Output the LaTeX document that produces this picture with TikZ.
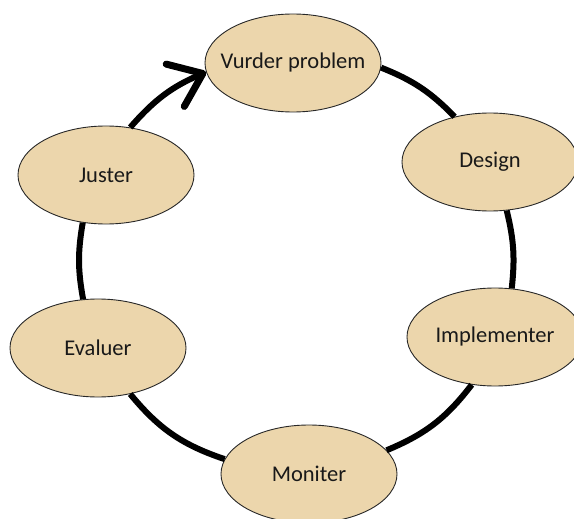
\documentclass[tikz,border=0pt]{standalone}
\usepackage{fontspec}
\setmainfont{Carlito}
\usetikzlibrary{arrows.meta,shapes.geometric}
\definecolor{phasefill}{RGB}{236,214,172}
\definecolor{phaseline}{RGB}{40,40,40}
\begin{document}
\begin{tikzpicture}[x=1pt, y=1pt, line width=6pt, line cap=butt,
  phase node/.style={ellipse, draw=phaseline, line width=0.9pt, fill=phasefill, minimum width=176pt, minimum height=98pt, inner xsep=-12pt, inner ysep=0pt},
  loop arrow/.style={-{Straight Barb[length=30pt, width=46pt, line width=7pt, round]}}]
\useasboundingbox (0,0) rectangle (574,-519);
\begin{scope}[every node/.style={font=\fontsize{22.5}{26}\selectfont, text=black!90}]
\node [phase node](vurder) at (293,-63) {Vurder problem};
\node [phase node](design) at (490,-162) {Design};
\node [phase node](impl) at (495,-337) {Implementer};
\node [phase node](moniter) at (309,-474) {Moniter};
\node [phase node](evaluer) at (98,-348) {Evaluer};
\node [phase node](juster) at (106,-175) {Juster};
\end{scope}
\path
    (vurder.-3) edge[bend left=12] (design.128)
    (design.-71) edge[bend left=10] (impl.71)
    (impl.-116) edge[bend left=15] (moniter.17)
    (moniter.170) edge[bend left=16] (evaluer.-55)
    (evaluer.107) edge[bend left=10] (juster.-116)
    (juster.63) edge[bend left=13, loop arrow] (vurder.186)
         ;
\end{tikzpicture}
\end{document}
